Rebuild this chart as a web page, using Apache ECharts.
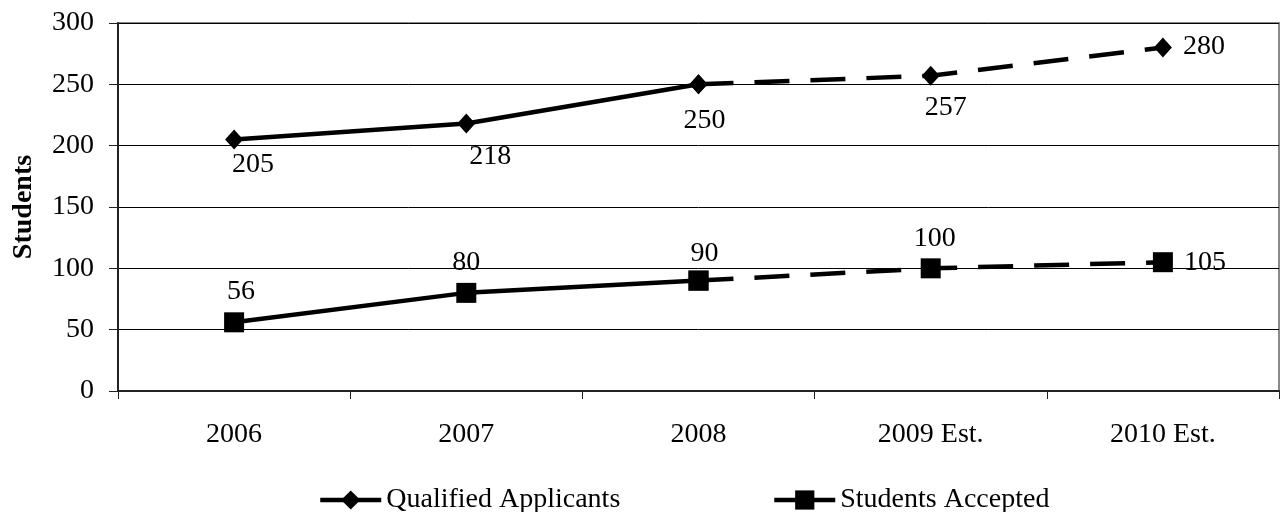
<!DOCTYPE html>
<html><head><meta charset="utf-8">
<script src="https://cdn.jsdelivr.net/npm/echarts@6/dist/echarts.min.js"></script>
<style>html,body{margin:0;padding:0;background:#fff}#c{width:1281px;height:512px}</style>
</head><body><div id="c"></div>
<script>
const categories = ['2006', '2007', '2008', '2009 Est.', '2010 Est.'];
const applicants = [205, 218, 250, 257, 280];
const accepted = [56, 80, 90, 100, 105];
const actualCount = 3; // first three years are actual, rest estimated
const yTicks = [0, 50, 100, 150, 200, 250, 300];

const F = 'Liberation Serif, Times New Roman, serif';
// label offsets from the data point (label centre minus point)
const appLabelOffset = [[19, 25], [24, 33], [6, 36], [15, 32], [41, -1]];
const accLabelOffset = [[7, -31], [0, -30], [6, -27], [4, -30], [42, 0]];

function build(arr, solid, offs) {
  return arr.map((v, i) => {
    const inRange = solid ? i < actualCount : i >= actualCount - 1;
    if (!inRange) return null;
    const owns = solid ? i < actualCount : i >= actualCount;
    return {
      value: v,
      label: owns ? { show: true, position: 'inside', offset: offs[i] } : { show: false }
    };
  });
}
const lbl = { color: '#000', fontFamily: F, fontSize: 28 };
const dash = [35, 21];
function mk(name, arr, solid, offs, symbol, size) {
  return {
    name, type: 'line', data: build(arr, solid, offs),
    symbol, symbolSize: size, itemStyle: { color: '#000' },
    lineStyle: { color: '#000', width: 4.5, type: solid ? 'solid' : dash },
    label: lbl, z: solid ? 3 : 2
  };
}
const chart = echarts.init(document.getElementById('c'), null, { renderer: 'canvas' });
const legText = { fontFamily: F, fontSize: 28, color: '#000' };
const legCommon = { itemWidth: 61, itemHeight: 24, textStyle: legText, itemGap: 6, padding: 0,
  lineStyle: { width: 4.5, color: '#000', type: 'solid' }, itemStyle: { color: '#000' } };
chart.setOption({
  animation: false,
  grid: { left: 118, right: 2, top: 23, bottom: 121, show: true, borderColor: '#8a8a8a', borderWidth: 2 },
  legend: [
    Object.assign({ data: [{ name: 'Qualified Applicants' }], left: 318, top: 486 }, legCommon),
    Object.assign({ data: [{ name: 'Students Accepted' }], left: 772, top: 486 }, legCommon)
  ],
  xAxis: {
    type: 'category', data: categories, boundaryGap: true,
    axisLine: { lineStyle: { color: '#222', width: 2 } },
    axisTick: { show: true, length: 8, lineStyle: { color: '#222', width: 1 } },
    axisLabel: { color: '#000', fontFamily: F, fontSize: 28, margin: 30 }
  },
  yAxis: {
    type: 'value', min: yTicks[0], max: yTicks[yTicks.length - 1], interval: 50,
    name: 'Students', nameLocation: 'middle', nameGap: 80,
    nameTextStyle: { fontFamily: F, fontSize: 28, fontWeight: 'bold', color: '#000' },
    axisLine: { show: true, lineStyle: { color: '#222', width: 2 } },
    axisTick: { show: true, length: 9, lineStyle: { color: '#222' } },
    axisLabel: { color: '#000', fontFamily: F, fontSize: 28, margin: 24 },
    splitLine: { lineStyle: { color: '#000', width: 1 } }
  },
  series: [
    mk('Qualified Applicants', applicants, true, appLabelOffset, 'diamond', [18, 20]),
    mk('Qualified Applicants', applicants, false, appLabelOffset, 'diamond', [18, 20]),
    mk('Students Accepted', accepted, true, accLabelOffset, 'rect', 20),
    mk('Students Accepted', accepted, false, accLabelOffset, 'rect', 20)
  ]
});
</script></body></html>
